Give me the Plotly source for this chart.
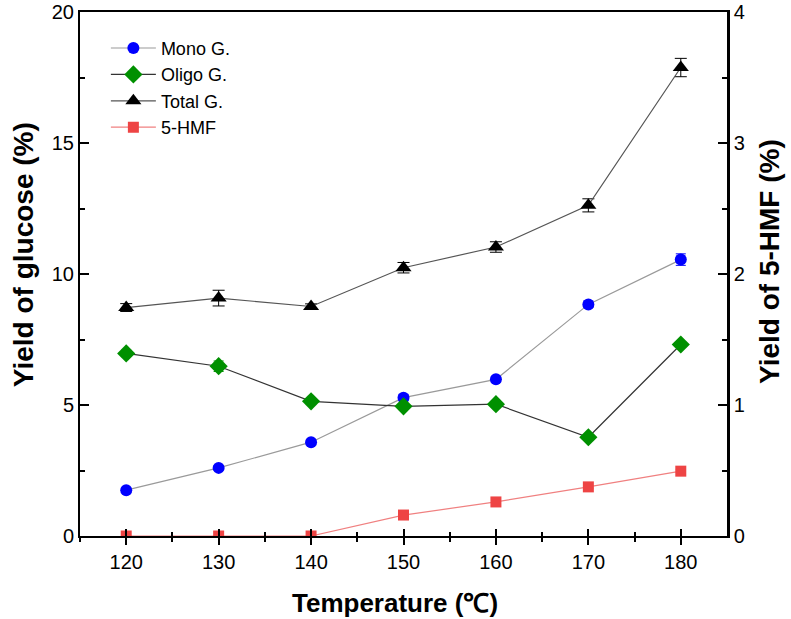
import plotly.graph_objects as go

temperature = [120, 130, 140, 150, 160, 170, 180]
mono_g = [1.75, 2.60, 3.58, 5.28, 5.98, 8.84, 10.55]
mono_err = [0.08, 0.08, 0.08, 0.12, 0.1, 0.12, 0.22]
oligo_g = [6.97, 6.48, 5.14, 4.95, 5.03, 3.77, 7.31]
oligo_err = [0.12, 0.2, 0.1, 0.1, 0.1, 0.1, 0.1]
total_g = [8.72, 9.08, 8.76, 10.24, 11.03, 12.62, 17.88]
total_err = [0.15, 0.3, 0.1, 0.2, 0.2, 0.25, 0.35]
hmf = [0.0, 0.0, 0.0, 0.16, 0.26, 0.375, 0.495]
hmf_err = [0.0, 0.0, 0.0, 0.01, 0.03, 0.01, 0.01]

x_title = "Temperature (℃)"
y_title = "Yield of glucose (%)"
y2_title = "Yield of 5-HMF (%)"

FONT = "Liberation Sans, Arial, sans-serif"

fig = go.Figure()
fig.add_trace(go.Scatter(
    x=temperature, y=mono_g, name="Mono G.", mode="lines+markers",
    line=dict(color="#9a9a9a", width=1.2),
    marker=dict(symbol="circle", size=12, color="#0000ff"),
    error_y=dict(type="data", array=mono_err, color="#0000ff", thickness=1, width=5),
))
fig.add_trace(go.Scatter(
    x=temperature, y=oligo_g, name="Oligo G.", mode="lines+markers",
    line=dict(color="#333333", width=1.2),
    marker=dict(symbol="diamond", size=14, color="#009000"),
    error_y=dict(type="data", array=oligo_err, color="#009000", thickness=1, width=5),
))
fig.add_trace(go.Scatter(
    x=temperature, y=total_g, name="Total G.", mode="lines+markers",
    line=dict(color="#555555", width=1.2),
    marker=dict(symbol="triangle-up", size=14, color="#000000"),
    error_y=dict(type="data", array=total_err, color="#000000", thickness=1, width=6),
))
fig.add_trace(go.Scatter(
    x=temperature, y=hmf, name="5-HMF", mode="lines+markers", yaxis="y2",
    line=dict(color="#f08080", width=1.2),
    marker=dict(symbol="square", size=11, color="#ee4444"),
    error_y=dict(type="data", array=hmf_err, color="#ee4444", thickness=1, width=5),
))
# invisible trace on overlay axis to carry inside ticks for crossing effect
fig.add_trace(go.Scatter(x=temperature, y=mono_g, xaxis="x2", mode="markers",
                         marker=dict(opacity=0), showlegend=False, hoverinfo="skip"))

fig.update_layout(
    width=791, height=619,
    margin=dict(l=80, r=64, t=12, b=83, autoexpand=False),
    paper_bgcolor="white", plot_bgcolor="white",
    font=dict(family=FONT, size=19, color="#000000"),
    showlegend=True,
    legend=dict(x=0.04, y=0.966, xanchor="left", yanchor="top",
                bgcolor="rgba(0,0,0,0)", font=dict(size=18, family=FONT),
                tracegroupgap=1, itemwidth=45),
    xaxis=dict(
        range=[115, 185], tickmode="array", tickvals=[120, 130, 140, 150, 160, 170, 180],
        ticks="outside", ticklen=7, tickwidth=2, tickcolor="black",
        minor=dict(tickvals=[115, 125, 135, 145, 155, 165, 175], ticks="outside",
                   ticklen=4, tickwidth=2, tickcolor="black"),
        showline=True, linewidth=2, linecolor="black", mirror=True,
        showgrid=False, zeroline=False, automargin=False,
        tickfont=dict(size=20),
    ),
    xaxis2=dict(
        range=[115, 185], overlaying="x", matches="x", showticklabels=False,
        tickmode="array", tickvals=[120, 130, 140, 150, 160, 170, 180],
        ticks="inside", ticklen=7, tickwidth=2, tickcolor="black",
        minor=dict(tickvals=[115, 125, 135, 145, 155, 165, 175], ticks="inside",
                   ticklen=4, tickwidth=2, tickcolor="black"),
        showline=False, showgrid=False, zeroline=False, automargin=False,
    ),
    yaxis=dict(
        range=[0, 20], tickmode="array", tickvals=[0, 5, 10, 15, 20],
        ticks="inside", ticklen=9, tickwidth=2, tickcolor="black",
        minor=dict(tickvals=[2.5, 7.5, 12.5, 17.5], ticks="inside",
                   ticklen=5, tickwidth=2, tickcolor="black"),
        showline=True, linewidth=2, linecolor="black",
        showgrid=False, zeroline=False, automargin=False,
        tickfont=dict(size=20),
    ),
    yaxis2=dict(
        range=[0, 4], overlaying="y", side="right", tickmode="array",
        tickvals=[0, 1, 2, 3, 4],
        ticks="inside", ticklen=9, tickwidth=2, tickcolor="black",
        minor=dict(tickvals=[0.5, 1.5, 2.5, 3.5], ticks="inside",
                   ticklen=5, tickwidth=2, tickcolor="black"),
        showline=True, linewidth=2.5, linecolor="black",
        showgrid=False, zeroline=False, automargin=False,
        tickfont=dict(size=20),
    ),
    annotations=[
        dict(text=f"<b>{x_title}</b>", xref="paper", yref="paper", x=0.487, y=-0.128,
             showarrow=False, font=dict(size=26, family=FONT), xanchor="center", yanchor="middle"),
        dict(text=f"<b>{y_title}</b>", xref="paper", yref="paper", x=-0.088, y=0.536,
             showarrow=False, textangle=-90, font=dict(size=28, family=FONT),
             xanchor="center", yanchor="middle"),
        dict(text=f"<b>{y2_title}</b>", xref="paper", yref="paper", x=1.0665, y=0.523,
             showarrow=False, textangle=-90, font=dict(size=28, family=FONT),
             xanchor="center", yanchor="middle"),
    ],
)

fig.write_html("out.html")
